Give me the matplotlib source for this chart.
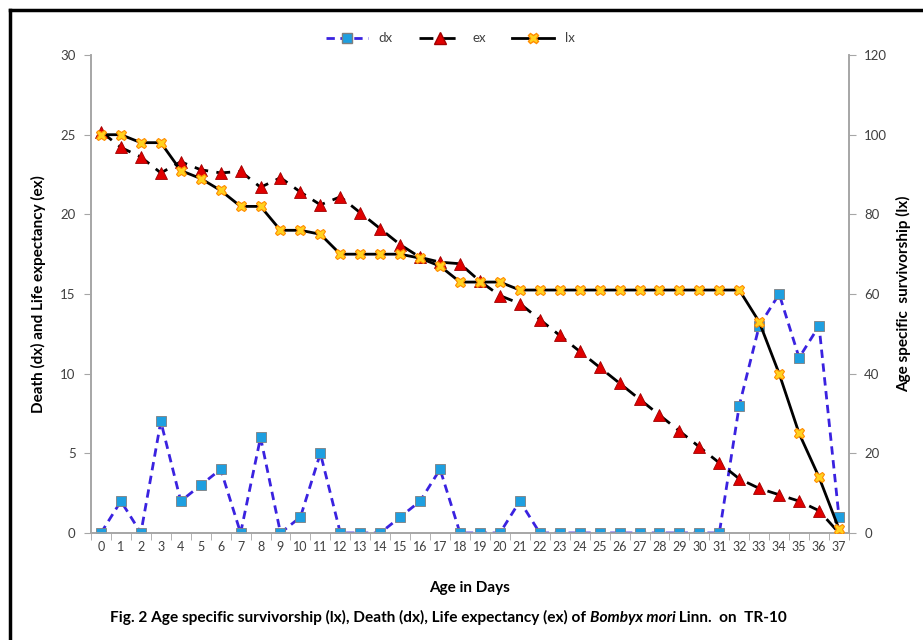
import numpy as np
import matplotlib
matplotlib.use('Agg')
from matplotlib import pyplot as plt
from matplotlib.lines import Line2D

plt.rcParams['font.family'] = ['Lato', 'DejaVu Sans']

# data
days = list(range(0, 38))
dx = [0, 2, 0, 7, 2, 3, 4, 0, 6, 0, 1, 5, 0, 0, 0, 1, 2, 4, 0, 0,
      0, 2, 0, 0, 0, 0, 0, 0, 0, 0, 0, 0, 8, 13, 15, 11, 13, 1]
ex = [25.2, 24.2, 23.6, 22.6, 23.3, 22.8, 22.6, 22.7, 21.7, 22.3,
      21.4, 20.6, 21.1, 20.1, 19.1, 18.1, 17.3, 17.0, 16.9, 15.8,
      14.9, 14.4, 13.4, 12.4, 11.4, 10.4, 9.4, 8.4, 7.4, 6.4,
      5.4, 4.4, 3.4, 2.8, 2.4, 2.0, 1.4, 0.0]
lx = [100, 100, 98, 98, 91, 89, 86, 82, 82, 76, 76, 75, 70, 70, 70, 70, 69, 67, 63, 63,
      63, 61, 61, 61, 61, 61, 61, 61, 61, 61, 61, 61, 61, 53, 40, 25, 14, 1]

fig = plt.figure(figsize=(9.23, 6.4), dpi=100)
ax = fig.add_axes([0.0986, 0.1672, 0.8212, 0.7468])
ax2 = ax.twinx()

spine_col = '#A6A6A6'
txt_col = '#404040'

# dx - blue dashed squares
ax.plot(days, dx, color='#3A22E0', linestyle=(0, (3, 2)), linewidth=2,
        marker='s', markersize=7, markerfacecolor='#1E9FE0', markeredgecolor='#7F7F7F',
        markeredgewidth=0.6, zorder=3)
# ex - black dashed red triangles
ax.plot(days, ex, color='black', linestyle=(0, (5, 3)), linewidth=2,
        marker='^', markersize=8, markerfacecolor='#E00000', markeredgecolor='#A00000',
        markeredgewidth=0.6, zorder=4)
# lx - black solid yellow stars on secondary axis
ax2.plot(days, lx, color='black', linestyle='-', linewidth=2,
         marker='X', markersize=7.5, markerfacecolor='#FFD21F', markeredgecolor='#FF8C00',
         markeredgewidth=0.8, zorder=4)

ax.set_xlim(-0.5, 37.5)
ax.set_ylim(0, 30)
ax2.set_ylim(0, 120)
ax.set_yticks(np.arange(0, 31, 5))
ax2.set_yticks(np.arange(0, 121, 20))
ax.set_xticks(days)
ax.set_xticks(np.arange(-0.5, 38, 1), minor=True)
ax.tick_params(axis='x', which='major', length=0, pad=6, labelsize=9, labelcolor=txt_col)
ax.tick_params(axis='x', which='minor', length=5, color=spine_col, direction='out')
ax.tick_params(axis='y', length=5, color=spine_col, labelsize=9.5, labelcolor=txt_col, pad=6)
ax2.tick_params(axis='y', length=5, color=spine_col, labelsize=9.5, labelcolor=txt_col, pad=6)

for a in (ax, ax2):
    a.spines['top'].set_visible(False)
    for s in ('left', 'right', 'bottom'):
        a.spines[s].set_color(spine_col)
        a.spines[s].set_linewidth(1.2)

ax.set_ylabel('Death (dx) and Life expectancy (ex)', fontsize=11, fontweight='bold',
              color='black', labelpad=10)
ax2.set_ylabel('Age specific  survivorship (lx)', fontsize=11, fontweight='bold',
               color='black', labelpad=6)
ax.set_xlabel('Age in Days', fontsize=11, fontweight='bold', color='black', labelpad=20)

handles = [
    Line2D([], [], color='#3A22E0', linestyle=(0, (3, 2)), linewidth=2, marker='s',
           markersize=7, markerfacecolor='#1E9FE0', markeredgecolor='#7F7F7F'),
    Line2D([], [], color='black', linestyle=(0, (5, 3)), linewidth=2, marker='^',
           markersize=8, markerfacecolor='#E00000', markeredgecolor='#A00000'),
    Line2D([], [], color='black', linestyle='-', linewidth=2, marker='X',
           markersize=7.5, markerfacecolor='#FFD21F', markeredgecolor='#FF8C00'),
]
fig.legend(handles, ['dx', 'ex', 'lx'], loc='center', bbox_to_anchor=(0.488, 0.94),
           ncol=3, frameon=False, fontsize=9.5, handlelength=3.2, columnspacing=2.0,
           handletextpad=0.8, labelcolor=txt_col)

# caption with italic species name
renderer = fig.canvas.get_renderer()
parts = [('Fig. 2 Age specific survivorship (lx), Death (dx), Life expectancy (ex) of ', 'normal'),
         ('Bombyx mori', 'italic'),
         (' Linn.  on  TR-10', 'normal')]
texts = []
for s, style in parts:
    t = fig.text(0, 0.035, s, fontsize=11.1, fontweight='bold', style=style,
                 ha='left', va='center', color='black')
    texts.append(t)
widths = [t.get_window_extent(renderer).width for t in texts]
x = (fig.bbox.width * 0.486 - sum(widths) / 2)
for t, w in zip(texts, widths):
    t.set_x(x / fig.bbox.width)
    x += w

# outer border (left, top)
border = dict(color='black', linewidth=2.5, transform=fig.transFigure)
fig.add_artist(Line2D([10 / 923, 10 / 923], [0, 1 - 10 / 640], **border))
fig.add_artist(Line2D([10 / 923, 1], [1 - 10 / 640, 1 - 10 / 640], **border))

fig.savefig('out.png', dpi=100)
